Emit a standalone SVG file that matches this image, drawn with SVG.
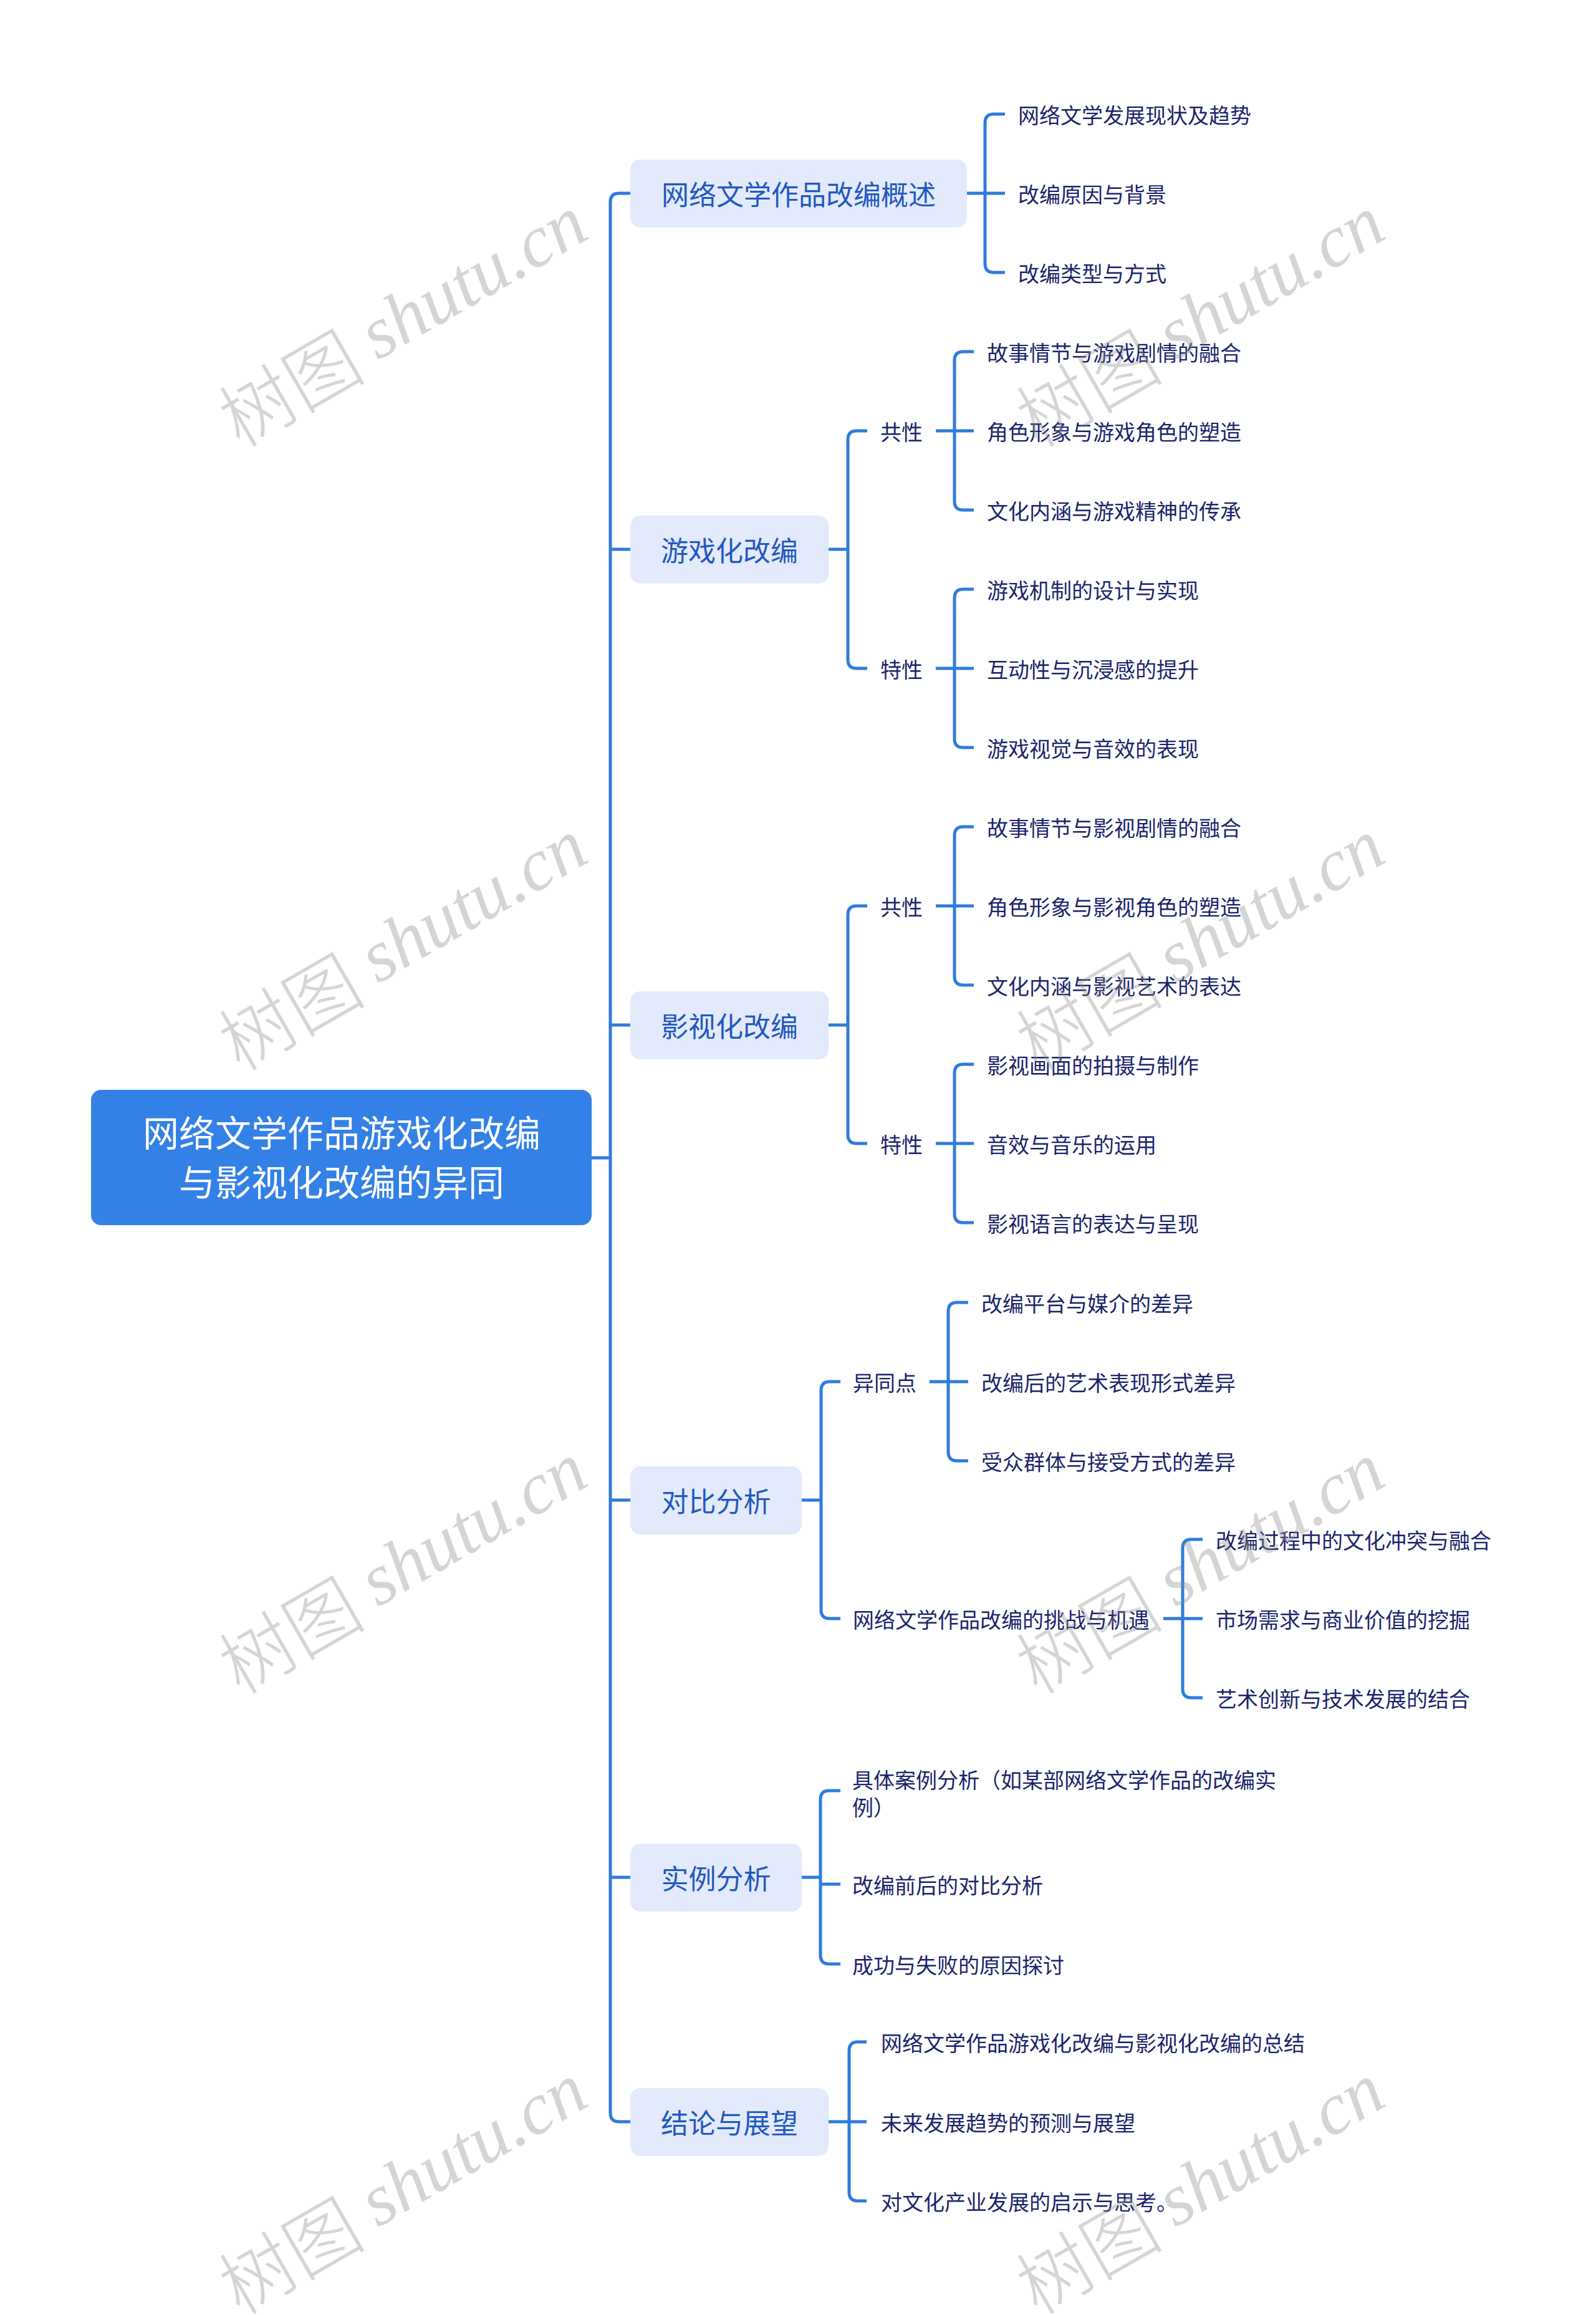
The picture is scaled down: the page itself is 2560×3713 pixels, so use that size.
<svg xmlns="http://www.w3.org/2000/svg" width="2560" height="3713" viewBox="0 0 2560 3713">
<style>
.bg{fill:#ffffff}
.root{fill:#3381E6}
.rootT{font-family:"Noto Sans CJK SC","Noto Sans",sans-serif;font-size:58px;fill:#ffffff;text-anchor:middle;dominant-baseline:central}
.l1{fill:#E2EAFB}
.l1T{font-family:"Noto Sans CJK SC","Noto Sans",sans-serif;font-size:44px;fill:#2358BE;text-anchor:middle;dominant-baseline:central}
.t{font-family:"Noto Sans CJK SC","Noto Sans",sans-serif;font-size:34px;fill:#1B246B;dominant-baseline:central}
.c{fill:none;stroke:#2F7BDE;stroke-width:5}
.wm{fill:#8a8a8a;fill-opacity:0.36;font-size:118px;text-anchor:middle;dominant-baseline:central}
.wmc{font-family:"Noto Sans CJK SC",sans-serif;font-weight:300}
.wml{font-family:"Liberation Serif",serif;font-style:italic}
</style>
<rect class="bg" x="0" y="0" width="2560" height="3713"/>

<g id="connectors">
<path class="c" d="M949 1857 H979"/>
<path class="c" d="M1011 310 H993 Q979 310 979 324 V3389 Q979 3403 993 3403 H1011"/>
<path class="c" d="M979 881 H1011 M979 1644 H1011 M979 2406 H1011 M979 3011 H1011"/>
<path class="c" d="M1551 310 H1612"/>
<path class="c" d="M1612 183 H1594 Q1580 183 1580 197 V423 Q1580 437 1594 437 H1612"/>
<path class="c" d="M1329 881 H1360"/>
<path class="c" d="M1391 691 H1374 Q1360 691 1360 705 V1058 Q1360 1072 1374 1072 H1391"/>
<path class="c" d="M1501 691 H1562"/>
<path class="c" d="M1562 564 H1545 Q1531 564 1531 578 V804 Q1531 818 1545 818 H1562"/>
<path class="c" d="M1501 1072 H1562"/>
<path class="c" d="M1562 945 H1545 Q1531 945 1531 959 V1185 Q1531 1199 1545 1199 H1562"/>
<path class="c" d="M1329 1644 H1360"/>
<path class="c" d="M1391 1453 H1374 Q1360 1453 1360 1467 V1820 Q1360 1834 1374 1834 H1391"/>
<path class="c" d="M1501 1453 H1562"/>
<path class="c" d="M1562 1326 H1545 Q1531 1326 1531 1340 V1566 Q1531 1580 1545 1580 H1562"/>
<path class="c" d="M1501 1834 H1562"/>
<path class="c" d="M1562 1707 H1545 Q1531 1707 1531 1721 V1947 Q1531 1961 1545 1961 H1562"/>
<path class="c" d="M1286 2406 H1317"/>
<path class="c" d="M1348 2216 H1331 Q1317 2216 1317 2230 V2582 Q1317 2596 1331 2596 H1348"/>
<path class="c" d="M1491 2216 H1553"/>
<path class="c" d="M1553 2089 H1535 Q1521 2089 1521 2103 V2329 Q1521 2343 1535 2343 H1553"/>
<path class="c" d="M1866 2596 H1929"/>
<path class="c" d="M1929 2469 H1911 Q1897 2469 1897 2483 V2709 Q1897 2723 1911 2723 H1929"/>
<path class="c" d="M1286 3011 H1316"/>
<path class="c" d="M1348 2872 H1330 Q1316 2872 1316 2886 V3136 Q1316 3150 1330 3150 H1348"/>
<path class="c" d="M1316 3022 H1348"/>
<path class="c" d="M1329 3403 H1390"/>
<path class="c" d="M1390 3275 H1376 Q1362 3275 1362 3289 V3516 Q1362 3530 1376 3530 H1390"/>
</g>

<g id="root">
<rect class="root" x="146" y="1748" width="803" height="217" rx="16"/>
<text class="rootT" x="548" y="1814">网络文学作品游戏化改编</text>
<text class="rootT" x="548" y="1893">与影视化改编的异同</text>
</g>

<g id="n1">
<rect class="l1" x="1011" y="256" width="540" height="109" rx="16"/>
<text class="l1T" x="1281" y="310">网络文学作品改编概述</text>
</g>
<g id="n1-1"><text class="t" x="1633" y="183">网络文学发展现状及趋势</text></g>
<g id="n1-2"><text class="t" x="1633" y="310">改编原因与背景</text></g>
<g id="n1-3"><text class="t" x="1633" y="437">改编类型与方式</text></g>

<g id="n2">
<rect class="l1" x="1011" y="827" width="318" height="109" rx="16"/>
<text class="l1T" x="1170" y="881">游戏化改编</text>
</g>
<g id="n2-1"><text class="t" x="1412" y="691">共性</text></g>
<g id="n2-1-1"><text class="t" x="1583" y="564">故事情节与游戏剧情的融合</text></g>
<g id="n2-1-2"><text class="t" x="1583" y="691">角色形象与游戏角色的塑造</text></g>
<g id="n2-1-3"><text class="t" x="1583" y="818">文化内涵与游戏精神的传承</text></g>
<g id="n2-2"><text class="t" x="1412" y="1072">特性</text></g>
<g id="n2-2-1"><text class="t" x="1583" y="945">游戏机制的设计与实现</text></g>
<g id="n2-2-2"><text class="t" x="1583" y="1072">互动性与沉浸感的提升</text></g>
<g id="n2-2-3"><text class="t" x="1583" y="1199">游戏视觉与音效的表现</text></g>

<g id="n3">
<rect class="l1" x="1011" y="1590" width="318" height="109" rx="16"/>
<text class="l1T" x="1170" y="1644">影视化改编</text>
</g>
<g id="n3-1"><text class="t" x="1412" y="1453">共性</text></g>
<g id="n3-1-1"><text class="t" x="1583" y="1326">故事情节与影视剧情的融合</text></g>
<g id="n3-1-2"><text class="t" x="1583" y="1453">角色形象与影视角色的塑造</text></g>
<g id="n3-1-3"><text class="t" x="1583" y="1580">文化内涵与影视艺术的表达</text></g>
<g id="n3-2"><text class="t" x="1412" y="1834">特性</text></g>
<g id="n3-2-1"><text class="t" x="1583" y="1707">影视画面的拍摄与制作</text></g>
<g id="n3-2-2"><text class="t" x="1583" y="1834">音效与音乐的运用</text></g>
<g id="n3-2-3"><text class="t" x="1583" y="1961">影视语言的表达与呈现</text></g>

<g id="n4">
<rect class="l1" x="1011" y="2352" width="275" height="109" rx="16"/>
<text class="l1T" x="1148.5" y="2406">对比分析</text>
</g>
<g id="n4-1"><text class="t" x="1368" y="2216">异同点</text></g>
<g id="n4-1-1"><text class="t" x="1574" y="2089">改编平台与媒介的差异</text></g>
<g id="n4-1-2"><text class="t" x="1574" y="2216">改编后的艺术表现形式差异</text></g>
<g id="n4-1-3"><text class="t" x="1574" y="2343">受众群体与接受方式的差异</text></g>
<g id="n4-2"><text class="t" x="1368" y="2596">网络文学作品改编的挑战与机遇</text></g>
<g id="n4-2-1"><text class="t" x="1950" y="2469">改编过程中的文化冲突与融合</text></g>
<g id="n4-2-2"><text class="t" x="1950" y="2596">市场需求与商业价值的挖掘</text></g>
<g id="n4-2-3"><text class="t" x="1950" y="2723">艺术创新与技术发展的结合</text></g>

<g id="n5">
<rect class="l1" x="1011" y="2957" width="275" height="109" rx="16"/>
<text class="l1T" x="1148.5" y="3011">实例分析</text>
</g>
<g id="n5-1"><text class="t" x="1367" y="2853">具体案例分析（如某部网络文学作品的改编实</text><text class="t" x="1367" y="2897">例）</text></g>
<g id="n5-2"><text class="t" x="1367" y="3022">改编前后的对比分析</text></g>
<g id="n5-3"><text class="t" x="1367" y="3150">成功与失败的原因探讨</text></g>

<g id="n6">
<rect class="l1" x="1011" y="3349" width="318" height="109" rx="16"/>
<text class="l1T" x="1170" y="3403">结论与展望</text>
</g>
<g id="n6-1"><text class="t" x="1413" y="3275">网络文学作品游戏化改编与影视化改编的总结</text></g>
<g id="n6-2"><text class="t" x="1413" y="3403">未来发展趋势的预测与展望</text></g>
<g id="n6-3"><text class="t" x="1413" y="3530">对文化产业发展的启示与思考。</text></g>

<g id="watermarks">
<text class="wm" transform="translate(644,510) rotate(-30)"><tspan class="wmc">树图 </tspan><tspan class="wml">shutu.cn</tspan></text>
<text class="wm" transform="translate(1923,510) rotate(-30)"><tspan class="wmc">树图 </tspan><tspan class="wml">shutu.cn</tspan></text>
<text class="wm" transform="translate(644,1510) rotate(-30)"><tspan class="wmc">树图 </tspan><tspan class="wml">shutu.cn</tspan></text>
<text class="wm" transform="translate(1923,1510) rotate(-30)"><tspan class="wmc">树图 </tspan><tspan class="wml">shutu.cn</tspan></text>
<text class="wm" transform="translate(644,2510) rotate(-30)"><tspan class="wmc">树图 </tspan><tspan class="wml">shutu.cn</tspan></text>
<text class="wm" transform="translate(1923,2510) rotate(-30)"><tspan class="wmc">树图 </tspan><tspan class="wml">shutu.cn</tspan></text>
<text class="wm" transform="translate(644,3505) rotate(-30)"><tspan class="wmc">树图 </tspan><tspan class="wml">shutu.cn</tspan></text>
<text class="wm" transform="translate(1923,3505) rotate(-30)"><tspan class="wmc">树图 </tspan><tspan class="wml">shutu.cn</tspan></text>
</g>
</svg>
